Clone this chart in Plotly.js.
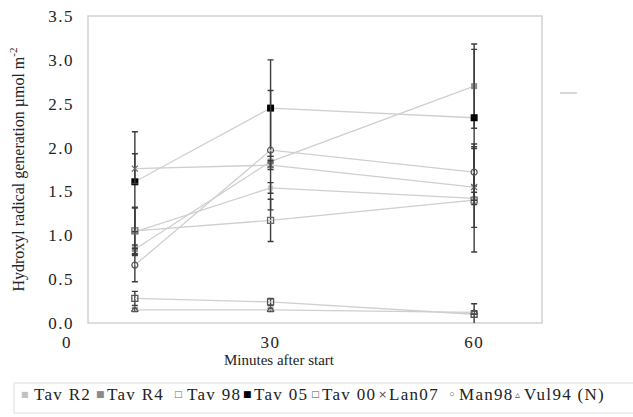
<!DOCTYPE html>
<html><head><meta charset="utf-8">
<script src="https://cdn.plot.ly/plotly-3.0.1.min.js"></script>
<style>html,body{margin:0;padding:0;background:#fff}#chart{width:633px;height:417px}</style>
</head><body><div id="chart"></div>
<script>
// ---- data ----
const minutes = [10, 30, 60];
const seriesNames = ['Tav R2', 'Tav R4', 'Tav 98', 'Tav 05', 'Tav 00', 'Lan07', 'Man98', 'Vul94 (N)'];
const tavR2 = [1.04, 1.54, 1.42];
const tavR4 = [0.84, 1.84, 2.70];
const tav98 = [1.05, 1.17, 1.40];
const tav05 = [1.61, 2.45, 2.34];
const tav00 = [0.28, 0.24, 0.10];
const lan07 = [1.76, 1.80, 1.55];
const man98 = [0.66, 1.97, 1.72];
const vul94 = [0.15, 0.15, 0.12];
const errR2 = [0.27, 0.06, 0.07];
const errR4 = [0.05, 0.06, 0.48];
const err98 = [0.27, 0.24, 0.59];
const err05 = [0.57, 0.55, 0.78];
const err00 = [0.08, 0.04, 0.12];
const errLan = [0.17, 0.05, 0.46];
const errMan = [0.19, 0.68, 0.32];
const errVul = [0.02, 0.02, 0.02];
const yTickVals = [0, 0.5, 1, 1.5, 2, 2.5, 3, 3.5];
const yTickText = ['0.0', '0.5', '1.0', '1.5', '2.0', '2.5', '3.0', '3.5'];
const xTickVals = [0, 30, 60];
const xTickText = ['0', '30', '60'];

const values = [tavR2, tavR4, tav98, tav05, tav00, lan07, man98, vul94];
const errors = [errR2, errR4, err98, err05, err00, errLan, errMan, errVul];

// ---- styles ----
const markerStyles = [
  {symbol: 'square', color: '#c2c2c2', size: 5},
  {symbol: 'square', color: '#8a8a8a', size: 6},
  {symbol: 'square-open', color: '#6a6a6a', size: 6, line: {width: 1.3}},
  {symbol: 'square', color: '#000000', size: 7},
  {symbol: 'square-open', color: '#555555', size: 6, line: {width: 1.3}},
  {symbol: 'x-thin-open', color: '#666666', size: 6, line: {width: 1.2, color: '#666666'}},
  {symbol: 'circle-open', color: '#555555', size: 6, line: {width: 1.2}},
  {symbol: 'triangle-up-open', color: '#555555', size: 6, line: {width: 1.2}}
];
const legendGlyphs = [
  {g: '■', c: '#c2c2c2', s: 8},
  {g: '■', c: '#8a8a8a', s: 9},
  {g: '□', c: '#6a6a6a', s: 9},
  {g: '■', c: '#000000', s: 9},
  {g: '□', c: '#555555', s: 9},
  {g: '×', c: '#555555', s: 11},
  {g: '◦', c: '#555555', s: 13},
  {g: '▵', c: '#555555', s: 10}
];
const legendMarkerPx = [25, 100, 178, 247, 315, 382, 452, 517];
const legendTextPx = [32, 105, 185, 252, 320, 387, 457, 522];

const traces = seriesNames.map((name, i) => ({
  type: 'scatter',
  mode: 'lines+markers',
  name: name,
  x: minutes,
  y: values[i],
  line: {color: '#cfcfcf', width: 1.3},
  marker: markerStyles[i],
  error_y: {type: 'data', array: errors[i], visible: true, color: '#3c3c3c', thickness: 1.4, width: 3},
  showlegend: false
}));

// geometry helpers (plot area 67..542 x 16..323)
const L = 67, R = 542, T = 16, B = 323;
const px = x => (x - L) / (R - L);
const py = y => (B - y) / (B - T);
const serif = 'Liberation Serif, Times New Roman, serif';
const spaced = (arr, ls) => arr.map(t => '<span style="letter-spacing:' + ls + 'px">' + t + '</span>');

const annotations = [];
seriesNames.forEach((name, i) => {
  const lg = legendGlyphs[i];
  annotations.push({
    xref: 'paper', yref: 'paper', x: px(legendMarkerPx[i]), y: py(394),
    xanchor: 'center', yanchor: 'middle', showarrow: false,
    text: lg.g, font: {family: 'DejaVu Sans', size: lg.s, color: lg.c}
  });
  annotations.push({
    xref: 'paper', yref: 'paper', x: px(legendTextPx[i]), y: py(394),
    xanchor: 'left', yanchor: 'middle', showarrow: false,
    text: '<span style="letter-spacing:1.3px">' + name + '</span>',
    font: {family: serif, size: 17, color: '#222'}
  });
});
annotations.push({
  xref: 'paper', yref: 'paper', x: px(279), y: py(360), xanchor: 'center', yanchor: 'middle',
  showarrow: false, text: 'Minutes after start', font: {family: serif, size: 15, color: '#222'}
});

const layout = {
  width: 633, height: 417,
  margin: {l: L, r: 633 - R, t: T, b: 417 - B},
  paper_bgcolor: '#fff', plot_bgcolor: 'rgba(0,0,0,0)',
  showlegend: false,
  font: {family: serif, size: 16, color: '#222'},
  xaxis: {
    range: [0, 70], tickvals: xTickVals, ticktext: spaced(xTickText, 1.5),
    showgrid: false, zeroline: false, showline: false, ticks: '',
    ticklabelstandoff: 7,
    tickfont: {family: serif, size: 17, color: '#222'}
  },
  yaxis: {
    range: [0, 3.5], tickvals: yTickVals, ticktext: spaced(yTickText, 1.5),
    anchor: 'free', position: (88 - L) / (R - L),
    showgrid: false, zeroline: false, showline: false, ticks: '',
    ticklabelstandoff: 14,
    tickfont: {family: serif, size: 17, color: '#222'},
    title: {text: 'Hydroxyl radical generation µmol m<sup>-2</sup>', standoff: 18,
            font: {family: serif, size: 16, color: '#222'}}
  },
  shapes: [
    {type: 'rect', xref: 'paper', yref: 'paper', x0: px(88), x1: 1, y0: 0, y1: 1,
     line: {color: '#d2d2d2', width: 1.5}, layer: 'below'},
    {type: 'rect', xref: 'paper', yref: 'paper', x0: px(14), x1: px(645), y0: py(413), y1: py(383),
     line: {color: '#dedede', width: 1}, fillcolor: '#ffffff', layer: 'below'},
    {type: 'line', xref: 'paper', yref: 'paper', x0: px(560), x1: px(577), y0: py(93), y1: py(93),
     line: {color: '#cccccc', width: 1.5}}
  ],
  annotations: annotations
};

Plotly.newPlot('chart', traces, layout, {displayModeBar: false, staticPlot: true});
</script>
</body></html>
